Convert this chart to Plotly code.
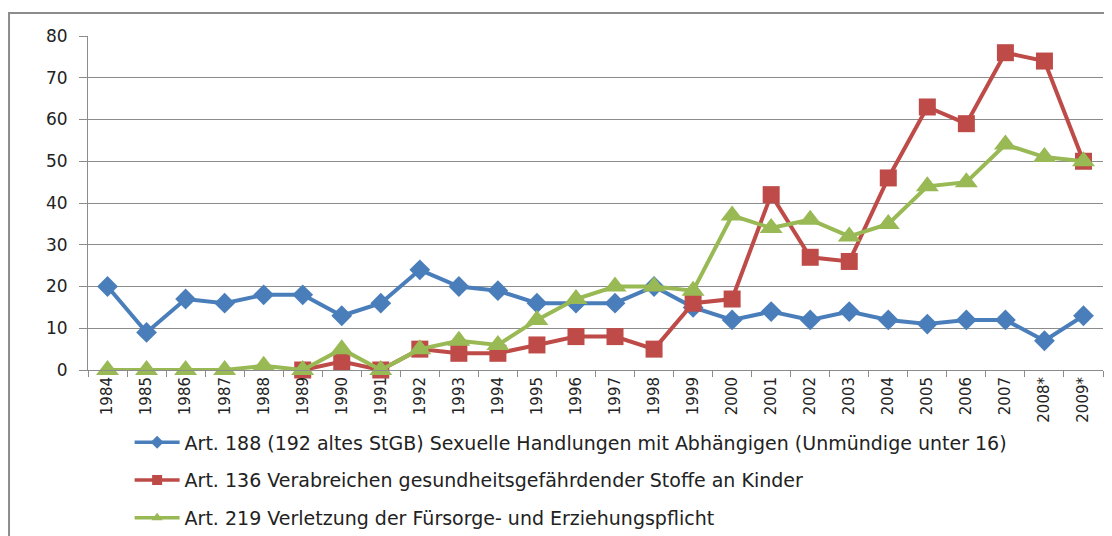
import plotly.graph_objects as go

years = ["1984", "1985", "1986", "1987", "1988", "1989", "1990", "1991", "1992", "1993",
         "1994", "1995", "1996", "1997", "1998", "1999", "2000", "2001", "2002", "2003",
         "2004", "2005", "2006", "2007", "2008*", "2009*"]

art188 = [20, 9, 17, 16, 18, 18, 13, 16, 24, 20, 19, 16, 16, 16, 20, 15, 12, 14, 12, 14,
          12, 11, 12, 12, 7, 13]
art136 = [None, None, None, None, None, 0, 2, 0, 5, 4, 4, 6, 8, 8, 5, 16, 17, 42, 27, 26,
          46, 63, 59, 76, 74, 50]
art219 = [0, 0, 0, 0, 1, 0, 5, 0, 5, 7, 6, 12, 17, 20, 20, 19, 37, 34, 36, 32,
          35, 44, 45, 54, 51, 50]

names = [
    "Art. 188 (192 altes StGB) Sexuelle Handlungen mit Abhängigen (Unmündige unter 16)",
    "Art. 136 Verabreichen gesundheitsgefährdender Stoffe an Kinder",
    "Art. 219 Verletzung der Fürsorge- und Erziehungspflicht",
]

fig = go.Figure()
styles = [
    (art188, "#4A7EBB", "diamond", 16),
    (art136, "#BE4B48", "square", 17),
    (art219, "#98B954", "triangle-up", 20),
]
for i, (vals, col, sym, sz) in enumerate(styles):
    fig.add_trace(go.Scatter(
        x=years, y=vals, name=names[i], mode="lines+markers",
        line=dict(color=col, width=4),
        marker=dict(symbol=sym, size=sz, color=col),
        showlegend=False, connectgaps=False, cliponaxis=False,
    ))
# legend entries with small symbols, as in the reference
for i, (vals, col, sym, sz) in enumerate(styles):
    fig.add_trace(go.Scatter(
        x=[None], y=[None], name=names[i], mode="lines+markers",
        line=dict(color=col, width=3.5),
        marker=dict(symbol=sym, size=10, color=col),
        legendgroup=str(i), showlegend=True,
    ))

grid = "#8C8C8C"
fig.update_layout(
    width=1104, height=528,
    margin=dict(l=80, r=9, t=28, b=166, autoexpand=False),
    paper_bgcolor="white", plot_bgcolor="white",
    font=dict(family="DejaVu Sans", color="#222222"),
    showlegend=True,
    legend=dict(
        x=0.041, y=-0.160, xanchor="left", yanchor="top",
        orientation="v", traceorder="grouped", tracegroupgap=10,
        font=dict(family="DejaVu Sans", size=19, color="#222222"),
        itemwidth=45, bgcolor="rgba(0,0,0,0)",
    ),
    xaxis=dict(
        type="category", tickson="boundaries", ticks="outside", ticklen=6,
        tickcolor=grid, showline=True, linecolor=grid, linewidth=1,
        showgrid=False, tickangle=-90, tickfont=dict(size=15, family="DejaVu Sans"),
        range=[-0.5, 25.5],
    ),
    yaxis=dict(
        range=[0, 80], dtick=10, ticks="outside", ticklen=8, tickcolor=grid,
        showline=True, linecolor=grid, linewidth=1,
        showgrid=True, gridcolor=grid, gridwidth=1,
        tickfont=dict(size=17, family="DejaVu Sans"), zeroline=False,
        ticklabelstandoff=8,
    ),
    shapes=[dict(
        type="rect", xref="paper", yref="paper",
        x0=-0.0778, x1=1.0079, y0=-0.52, y1=1.0689,
        line=dict(color="#8C8C8C", width=2), fillcolor="rgba(0,0,0,0)", layer="below",
    )],
)

fig.write_html("out.html")
